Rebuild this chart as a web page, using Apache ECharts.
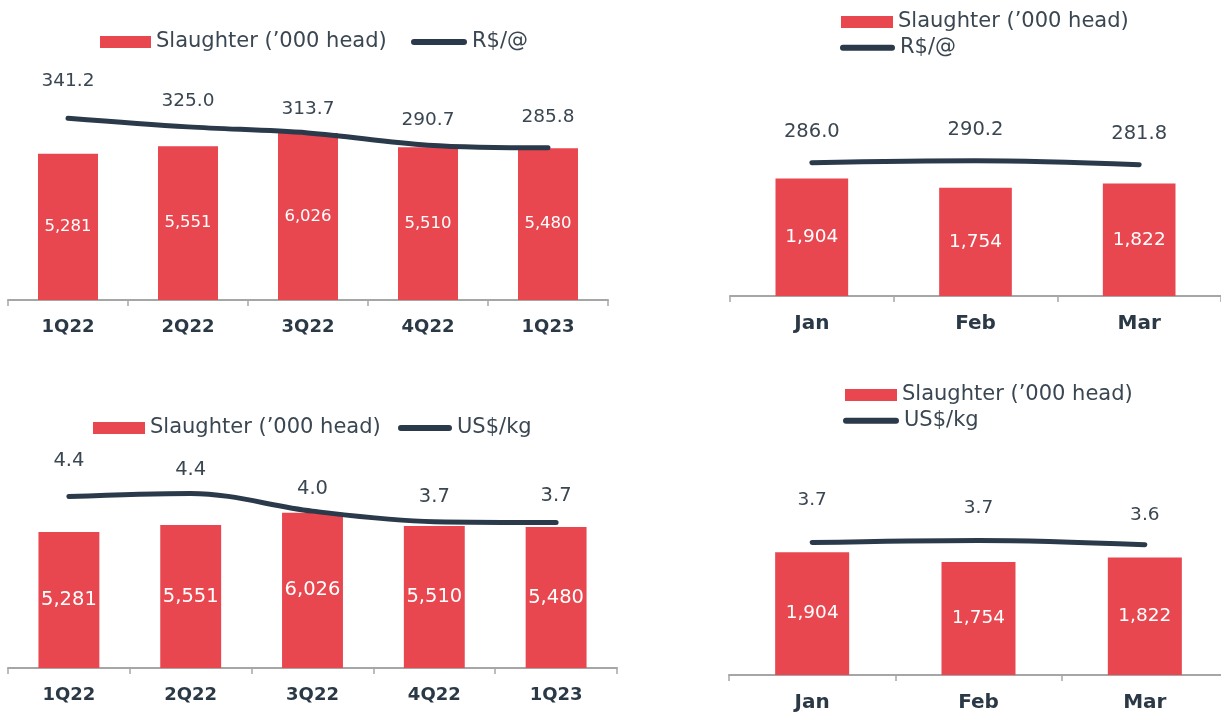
<!DOCTYPE html>
<html><head><meta charset="utf-8">
<script src="https://cdn.jsdelivr.net/npm/echarts@6/dist/echarts.min.js"></script>
<style>html,body{margin:0;padding:0;background:#fff;overflow:hidden;} #c{width:1221px;height:712px;}</style>
</head><body><div id="c"></div>
<script>
// ---- data ----
const quarters = ['1Q22', '2Q22', '3Q22', '4Q22', '1Q23'];
const months = ['Jan', 'Feb', 'Mar'];
const slaughterQuarter = [5281, 5551, 6026, 5510, 5480];
const slaughterMonth = [1904, 1754, 1822];
const brlPerArrobaQuarter = [341.2, 325.0, 313.7, 290.7, 285.8];
const brlPerArrobaMonth = [286.0, 290.2, 281.8];
const usdPerKgQuarter = [4.36, 4.44, 3.99, 3.72, 3.70];
const usdPerKgMonth = [3.68, 3.74, 3.62];
const barName = "Slaughter (\u2019000 head)";
const brlName = 'R$/@';
const usdName = 'US$/kg';

// ---- label lift (style only) ----
const liftTL = [27, 16, 13.5, 14.5, 21];
const liftTR = [20.5, 20.5, 20.5];
const liftBL = [25, 13.5, 12, 14, 16];
const liftBR = [32, 22, 19.5];

const FONT = 'DejaVu Sans';
const RED = '#E8474F';
const NAVY = '#2B3A4A';
const TXT = '#3A4651';
const AX = '#A6A6A6';
const lineIcon = 'path://M3,0 L53,0 A3,3 0 0 1 53,6 L3,6 A3,3 0 0 1 3,0 Z';

const panels = [
  {grid: {left: 8, top: 23, width: 600, height: 277}, cats: quarters, bars: slaughterQuarter, line: brlPerArrobaQuarter, lineName: brlName,
   barMax: 10000, lineMax: 520, barW: '50%', barFont: 16.5, lineFont: 18.5, axisFont: 18, lift: liftTL,
   legBar: {left: 100, top: 31.5, w: 51}, legLine: {left: 411, top: 31.5, w: 56}},
  {grid: {left: 730, top: 49, width: 491, height: 247}, cats: months, bars: slaughterMonth, line: brlPerArrobaMonth, lineName: brlName,
   barMax: 4000, lineMax: 530, barW: '44.4%', barFont: 18.5, lineFont: 19.5, axisFont: 20, lift: liftTR,
   legBar: {left: 841, top: 11.5, w: 52}, legLine: {left: 840, top: 37.2, w: 55}},
  {grid: {left: 8, top: 410.5, width: 609, height: 257.5}, cats: quarters, bars: slaughterQuarter, line: usdPerKgQuarter, lineName: usdName,
   barMax: 10000, lineMax: 6.55, barW: '50%', barFont: 19.5, lineFont: 19.5, axisFont: 18, lift: liftBL,
   legBar: {left: 93, top: 417.5, w: 52}, legLine: {left: 398, top: 417.5, w: 54}},
  {grid: {left: 729, top: 417.3, width: 499, height: 257.7}, cats: months, bars: slaughterMonth, line: usdPerKgMonth, lineName: usdName,
   barMax: 4000, lineMax: 7.16, barW: '44.5%', barFont: 18.5, lineFont: 18.5, axisFont: 20, lift: liftBR,
   legBar: {left: 845, top: 384.5, w: 52}, legLine: {left: 843, top: 410.2, w: 56}}
];

const option = {
  animation: false,
  backgroundColor: '#fff',
  grid: [], xAxis: [], yAxis: [], series: [], legend: []
};

panels.forEach((p, i) => {
  option.grid.push(Object.assign({containLabel: false, outerBoundsMode: 'none'}, p.grid));
  option.xAxis.push({
    type: 'category', gridIndex: i, data: p.cats, boundaryGap: true,
    axisLine: {show: true, lineStyle: {color: AX, width: 2}},
    axisTick: {show: true, length: 6, lineStyle: {color: AX, width: 1.5}},
    axisLabel: {show: true, margin: 18, color: '#2B3946', fontFamily: FONT, fontWeight: 'bold', fontSize: p.axisFont},
    splitLine: {show: false}
  });
  option.yAxis.push({type: 'value', gridIndex: i, min: 0, max: p.barMax, show: false, splitLine: {show: false}});
  option.yAxis.push({type: 'value', gridIndex: i, min: 0, max: p.lineMax, show: false, splitLine: {show: false}});
  option.series.push({
    type: 'bar', name: barName, xAxisIndex: i, yAxisIndex: 2 * i, data: p.bars, barWidth: p.barW,
    itemStyle: {color: RED},
    label: {show: true, position: 'inside', color: '#fff', fontFamily: FONT, fontSize: p.barFont,
      formatter: d => d.value.toLocaleString('en-US')}
  });
  option.series.push({
    type: 'line', name: p.lineName, xAxisIndex: i, yAxisIndex: 2 * i + 1,
    data: p.line.map((v, k) => ({value: v, label: {distance: p.lift[k]}})),
    smooth: 0.35, symbol: 'circle', symbolSize: 1,
    itemStyle: {color: NAVY},
    lineStyle: {color: NAVY, width: 5, cap: 'round'},
    label: {show: true, position: 'top', color: TXT, fontFamily: FONT, fontSize: p.lineFont,
      formatter: d => d.value.toFixed(1)}
  });
  const ts = {color: TXT, fontFamily: FONT, fontSize: 21};
  option.legend.push({
    left: p.legBar.left, top: p.legBar.top, padding: 0, orient: 'horizontal',
    itemWidth: p.legBar.w, itemHeight: 12, selectedMode: false,
    data: [{name: barName, icon: 'rect', itemStyle: {color: RED}}], textStyle: ts
  });
  option.legend.push({
    left: p.legLine.left, top: p.legLine.top, padding: 0, orient: 'horizontal',
    itemWidth: p.legLine.w, itemHeight: 6, selectedMode: false,
    data: [{name: p.lineName, icon: lineIcon, itemStyle: {color: NAVY}}], textStyle: ts
  });
});

const chart = echarts.init(document.getElementById('c'), null, {renderer: 'canvas'});
chart.setOption(option);
</script>
</body></html>
